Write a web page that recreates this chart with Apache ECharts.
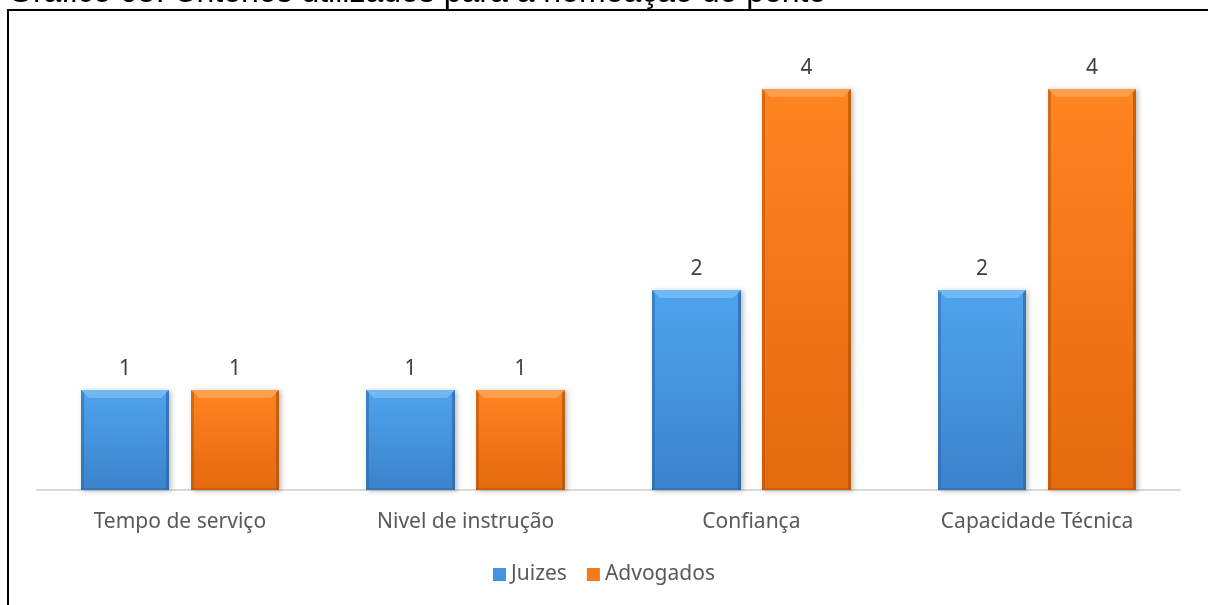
<!DOCTYPE html>
<html>
<head>
<meta charset="utf-8">
<script src="https://cdn.jsdelivr.net/npm/echarts@6/dist/echarts.min.js"></script>
<style>
  html, body { margin: 0; padding: 0; background: #fff; }
  #chart { width: 1208px; height: 605px; position: relative; }
  #frame { position: absolute; left: 7px; top: 9px; width: 1220px; height: 620px;
           border-left: 2px solid #000; border-top: 2px solid #000; pointer-events: none; }
</style>
</head>
<body>
<div id="chart"></div>
<div id="frame"></div>
<script>
// Criteria used to appoint the expert, by respondent group
const categories = ['Tempo de serviço', 'Nivel de instrução', 'Confiança', 'Capacidade Técnica'];
const juizes = [1, 1, 2, 2];
const advogados = [1, 1, 4, 4];
const seriesNames = ['Juizes', 'Advogados'];

const FONT = 'Noto Sans';
const BAR_RATIO = 0.31;   // bar width as a share of the category band
const GAP_RATIO = 0.24;   // gap between the two bars as a share of bar width

// colour sets for the bevelled bars
const palettes = [
  { top: '#4fa3ee', bottom: '#3b83cb', bevel: '#7cc0f6', side: '#2d6aa8', legend: '#4195e0' },
  { top: '#ff8422', bottom: '#e5690e', bevel: '#ffa75a', side: '#b65407', legend: '#f57a1a' }
];

const chart = echarts.init(document.getElementById('chart'));

function bevelBar(seriesIndex) {
  const pal = palettes[seriesIndex];
  return function (params, api) {
    const cat = api.value(0);
    const val = api.value(1);
    const base = api.coord([cat, 0]);
    const top = api.coord([cat, val]);
    const band = api.size([1, 0])[0];
    const w = band * BAR_RATIO;
    const gap = w * GAP_RATIO;
    const cx = base[0] + (seriesIndex === 0 ? -1 : 1) * (gap / 2 + w / 2);
    const x0 = Math.round(cx - w / 2), x1 = Math.round(cx + w / 2);
    const y0 = Math.round(top[1]), y1 = Math.round(base[1]);
    const b = 8, s = 3;
    return {
      type: 'group',
      children: [
        {
          type: 'rect',
          shape: { x: x0, y: y0, width: x1 - x0, height: y1 - y0 },
          style: {
            fill: new echarts.graphic.LinearGradient(0, 0, 0, 1, [
              { offset: 0, color: pal.top },
              { offset: 1, color: pal.bottom }
            ]),
            shadowColor: 'rgba(0,0,0,0.28)',
            shadowBlur: 5,
            shadowOffsetX: 2,
            shadowOffsetY: 1
          },
          textContent: {
            style: { text: String(val), fill: '#404040', fontSize: 21, fontFamily: FONT }
          },
          textConfig: { position: 'top', distance: 10 }
        },
        {
          type: 'polygon',
          shape: { points: [[x0, y0], [x1, y0], [x1 - b, y0 + b], [x0 + b, y0 + b]] },
          style: { fill: pal.bevel, opacity: 0.75 }
        },
        {
          type: 'polygon',
          shape: { points: [[x0, y0], [x0 + s, y0 + s], [x0 + s, y1], [x0, y1]] },
          style: { fill: pal.side, opacity: 0.55 }
        },
        {
          type: 'polygon',
          shape: { points: [[x1, y0], [x1 - s, y0 + s], [x1 - s, y1], [x1, y1]] },
          style: { fill: pal.side, opacity: 0.75 }
        },
        {
          type: 'rect',
          shape: { x: x0, y: y1 - 2, width: x1 - x0, height: 2 },
          style: { fill: pal.side, opacity: 0.5 }
        }
      ]
    };
  };
}

function seriesData(values) {
  return values.map((v, i) => [i, v]);
}

chart.setOption({
  animation: false,
  title: {
    text: 'Gráfico 05: Critérios utilizados para a nomeação do perito',
    left: 3,
    top: -28,
    textStyle: { fontFamily: 'Liberation Sans', fontSize: 32, fontWeight: 'normal', color: '#000' }
  },
  legend: {
    bottom: 15,
    left: 'center',
    itemWidth: 13,
    itemHeight: 13,
    itemGap: 20,
    icon: 'rect',
    textStyle: { color: '#595959', fontSize: 21, fontFamily: FONT },
    data: seriesNames
  },
  grid: { left: 37, right: 28, top: 89, bottom: 115 },
  xAxis: {
    type: 'category',
    data: categories,
    axisLine: { lineStyle: { color: '#d9d9d9', width: 2 } },
    axisTick: { show: false },
    axisLabel: { color: '#595959', fontSize: 21, fontFamily: FONT, margin: 22 }
  },
  yAxis: {
    type: 'value',
    min: 0,
    max: 4,
    interval: 1,
    show: false,
    splitLine: { show: false }
  },
  series: [0, 1].map(i => ({
    name: seriesNames[i],
    type: 'custom',
    renderItem: bevelBar(i),
    encode: { x: 0, y: 1 },
    itemStyle: { color: palettes[i].legend },
    data: seriesData(i === 0 ? juizes : advogados)
  }))
});
</script>
</body>
</html>
